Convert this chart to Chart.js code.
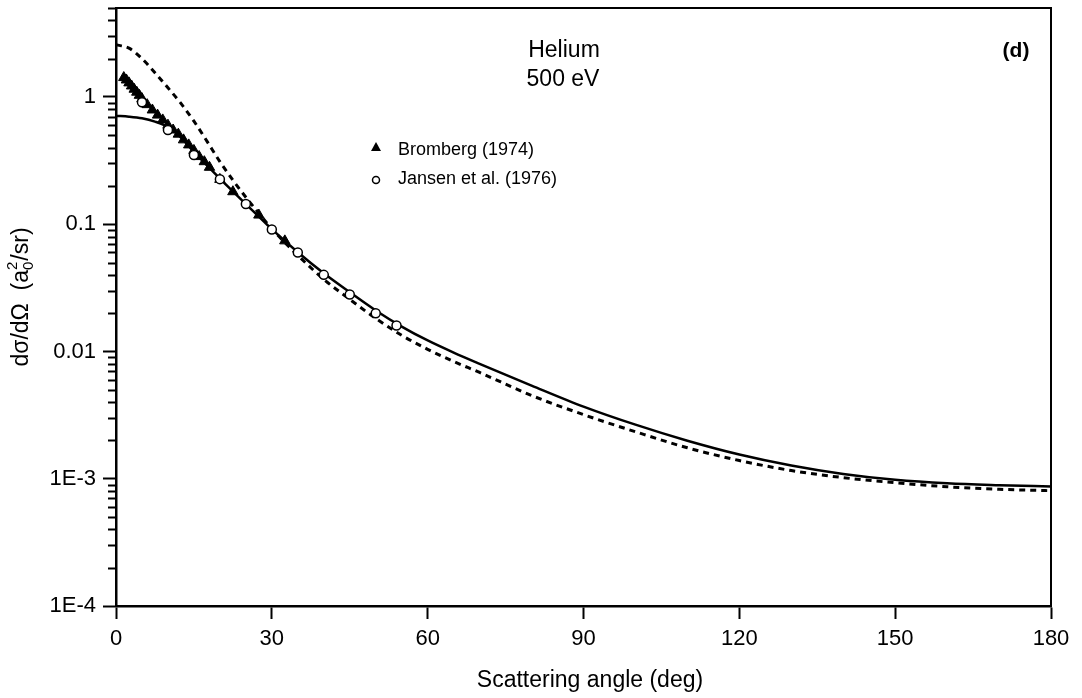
<!DOCTYPE html>
<html>
<head>
<meta charset="utf-8">
<script src="https://cdn.jsdelivr.net/npm/chart.js@4.4.0/dist/chart.umd.min.js"></script>
<style>
  html, body { margin: 0; padding: 0; background: #fff; }
  #wrap { width: 1082px; height: 698px; }
</style>
</head>
<body>
<div id="wrap"><canvas id="dcs" width="1082" height="698"></canvas></div>
<script>
// Helium, 500 eV: differential cross section vs scattering angle

// calculated curves, sampled at these angles (deg)
const curveAngles = [0, 2.5, 5, 7.5, 10, 12.5, 15, 17.5, 20, 22.5, 25, 27.5, 30, 35, 40, 45,
  50, 55, 60, 65, 70, 80, 90, 100, 110, 120, 130, 140, 150, 160, 170, 180];
const solidValues = [0.71, 0.70, 0.68, 0.64, 0.58, 0.48, 0.37, 0.29, 0.228, 0.181, 0.144, 0.115,
  0.0914, 0.0602, 0.0411, 0.0292, 0.0210, 0.0157, 0.0122, 0.0098, 0.0080, 0.0054, 0.00369, 0.00266,
  0.00199, 0.00155, 0.00127, 0.00109, 0.00098, 0.00092, 0.00089, 0.00087];
const dashedValues = [2.57, 2.42, 2.0, 1.55, 1.18, 0.89, 0.645, 0.45, 0.31, 0.222, 0.163, 0.122,
  0.092, 0.0570, 0.0369, 0.0257, 0.0182, 0.0134, 0.0104, 0.00834, 0.00684, 0.00451, 0.00319, 0.00234,
  0.00175, 0.00139, 0.00116, 0.00102, 0.00093, 0.000865, 0.000826, 0.000805];

// Bromberg (1974)
const brombergAngles = [1.5, 2, 2.5, 3, 3.5, 4, 4.5, 5, 6, 7, 8, 9, 10, 11, 12, 13, 14, 15, 16,
  17, 18, 20, 22.5, 27.5, 32.5];
const brombergValues = [1.42, 1.36, 1.29, 1.22, 1.15, 1.09, 1.03, 0.97, 0.87, 0.79, 0.72, 0.66,
  0.60, 0.55, 0.51, 0.46, 0.42, 0.38, 0.34, 0.31, 0.28, 0.225, 0.18, 0.118, 0.074];

// Jansen et al. (1976)
const jansenAngles = [5, 10, 15, 20, 25, 30, 35, 40, 45, 50, 54];
const jansenValues = [0.91, 0.55, 0.35, 0.226, 0.144, 0.091, 0.060, 0.040, 0.028, 0.020, 0.016];

// axes
const xTicks = [0, 30, 60, 90, 120, 150, 180];
const yMajor = [1e-4, 1e-3, 0.01, 0.1, 1];
const yLabels = ['1E-4', '1E-3', '0.01', '0.1', '1'];
const yMin = 1e-4;
const yMax = 5;

const FONT = '"Liberation Sans", Arial, sans-serif';

const pairs = (xs, ys) => xs.map((x, i) => ({ x: x, y: ys[i] }));

// minor ticks 2..9 in every decade
const yMinor = [];
yMajor.forEach(m => {
  for (let k = 2; k <= 9; k++) {
    if (m * k <= yMax) yMinor.push(m * k);
  }
});

function drawYTitle(ctx, cx, cy) {
  const big = '23px ' + FONT;
  const small = '15px ' + FONT;
  ctx.save();
  ctx.translate(cx, cy);
  ctx.rotate(-Math.PI / 2);
  ctx.fillStyle = '#000';
  ctx.textBaseline = 'middle';
  ctx.textAlign = 'left';
  const head = 'd\u03c3/d\u03a9  (a';
  const tail = '/sr)';
  ctx.font = big;
  const wHead = ctx.measureText(head).width;
  const wTail = ctx.measureText(tail).width;
  ctx.font = small;
  const wSup = Math.max(ctx.measureText('2').width, ctx.measureText('0').width) + 1;
  let x = -(wHead + wSup + wTail) / 2;
  ctx.font = big;
  ctx.fillText(head, x, 0);
  x += wHead;
  ctx.font = small;
  ctx.fillText('2', x, -9);
  ctx.fillText('0', x, 7);
  x += wSup;
  ctx.font = big;
  ctx.fillText(tail, x, 0);
  ctx.restore();
}

const decorations = {
  id: 'decorations',
  afterDraw(chart) {
    const { ctx, chartArea: a, scales } = chart;
    ctx.save();
    ctx.strokeStyle = '#000';

    // top and right edges of the frame
    ctx.lineWidth = 2;
    ctx.beginPath();
    ctx.moveTo(a.left, a.top);
    ctx.lineTo(a.right, a.top);
    ctx.lineTo(a.right, a.bottom);
    ctx.stroke();

    // minor log ticks on the left axis
    ctx.lineWidth = 2;
    ctx.beginPath();
    yMinor.forEach(v => {
      const py = Math.round(scales.y.getPixelForValue(v)) + 0.5;
      ctx.moveTo(a.left - 8, py);
      ctx.lineTo(a.left, py);
    });
    ctx.stroke();

    ctx.fillStyle = '#000';
    ctx.textBaseline = 'middle';

    // annotation in the plot
    ctx.textAlign = 'center';
    ctx.font = '23px ' + FONT;
    ctx.fillText('Helium', 564, 51);
    ctx.fillText('500 eV', 563, 80);
    ctx.font = 'bold 21px ' + FONT;
    ctx.fillText('(d)', 1016, 51);

    // legend
    ctx.textAlign = 'left';
    ctx.font = '18px ' + FONT;
    ctx.fillText('Bromberg (1974)', 398, 150);
    ctx.fillText('Jansen et al. (1976)', 398, 179);
    ctx.beginPath();
    ctx.moveTo(376, 142);
    ctx.lineTo(381, 151);
    ctx.lineTo(371, 151);
    ctx.closePath();
    ctx.fill();
    ctx.lineWidth = 1.5;
    ctx.beginPath();
    ctx.arc(376, 180, 3.5, 0, Math.PI * 2);
    ctx.fillStyle = '#fff';
    ctx.fill();
    ctx.stroke();

    // axis titles
    ctx.fillStyle = '#000';
    ctx.textAlign = 'center';
    ctx.font = '23px ' + FONT;
    ctx.fillText('Scattering angle (deg)', 590, 681);
    drawYTitle(ctx, 22, 297);
    ctx.restore();
  }
};

const ctx = document.getElementById('dcs').getContext('2d');
new Chart(ctx, {
  type: 'scatter',
  data: {
    datasets: [
      {
        label: 'Jansen et al. (1976)',
        data: pairs(jansenAngles, jansenValues),
        pointStyle: 'circle',
        pointRadius: 4.5,
        backgroundColor: '#fff',
        borderColor: '#000',
        borderWidth: 1.5
      },
      {
        label: 'Bromberg (1974)',
        data: pairs(brombergAngles, brombergValues),
        pointStyle: 'triangle',
        pointRadius: 6,
        backgroundColor: '#000',
        borderColor: '#000',
        borderWidth: 1
      },
      {
        label: 'solid',
        data: pairs(curveAngles, solidValues),
        showLine: true,
        pointRadius: 0,
        borderColor: '#000',
        borderWidth: 2.5,
        cubicInterpolationMode: 'monotone'
      },
      {
        label: 'dashed',
        data: pairs(curveAngles, dashedValues),
        showLine: true,
        pointRadius: 0,
        borderColor: '#000',
        borderWidth: 3,
        borderDash: [6, 5],
        cubicInterpolationMode: 'monotone'
      }
    ]
  },
  options: {
    responsive: false,
    animation: false,
    devicePixelRatio: 1,
    layout: { padding: { left: 0, top: 8, right: 31, bottom: 0 } },
    plugins: {
      legend: { display: false },
      tooltip: { enabled: false }
    },
    scales: {
      x: {
        type: 'linear',
        min: 0,
        max: 180,
        afterBuildTicks: s => { s.ticks = xTicks.map(v => ({ value: v })); },
        afterFit: s => { s.height = 92; s.paddingLeft = 0; s.paddingRight = 0; },
        ticks: {
          color: '#000',
          font: { family: FONT, size: 22 },
          padding: 7,
          maxRotation: 0
        },
        grid: {
          display: true,
          drawOnChartArea: false,
          tickLength: 13,
          tickColor: '#000',
          tickWidth: 2
        },
        border: { display: true, color: '#000', width: 2.5 }
      },
      y: {
        type: 'logarithmic',
        min: yMin,
        max: yMax,
        afterBuildTicks: s => { s.ticks = yMajor.map(v => ({ value: v, major: true })); },
        afterFit: s => { s.width = 116; s.paddingTop = 0; s.paddingBottom = 0; },
        ticks: {
          color: '#000',
          font: { family: FONT, size: 22 },
          padding: 7,
          callback: (v, i) => yLabels[i]
        },
        grid: {
          display: true,
          drawOnChartArea: false,
          tickLength: 13,
          tickColor: '#000',
          tickWidth: 2
        },
        border: { display: true, color: '#000', width: 2.5 }
      }
    }
  },
  plugins: [decorations]
});
</script>
</body>
</html>
